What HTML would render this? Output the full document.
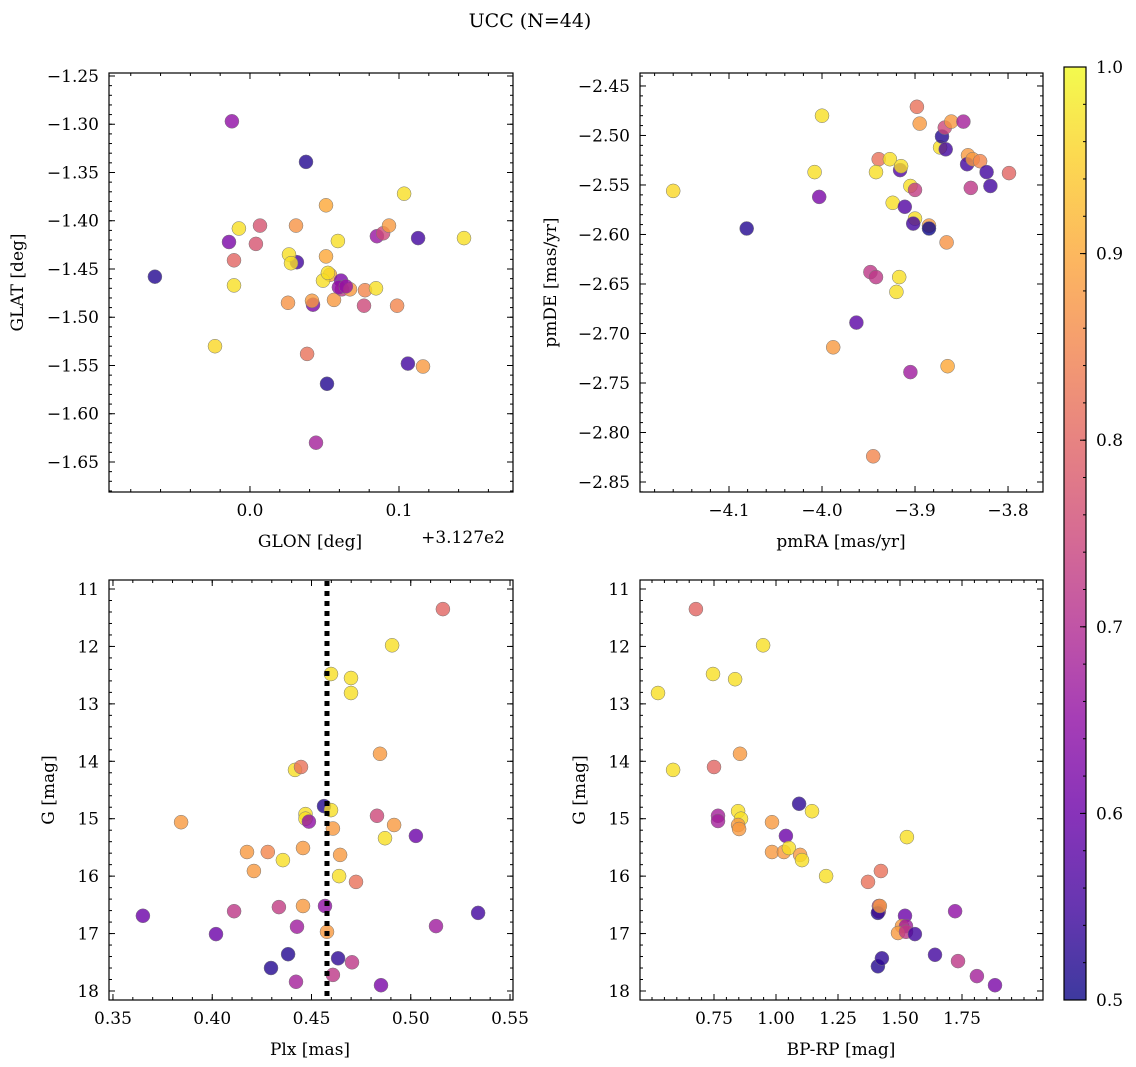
<!DOCTYPE html>
<html><head><meta charset="utf-8"><style>
html,body{margin:0;padding:0;background:#fff;}
svg{display:block;font-family:"DejaVu Serif","Liberation Serif",serif;}
</style></head><body>
<svg id="fig" width="1136" height="1067" viewBox="0 0 1136 1067">
<text x="530" y="27" text-anchor="middle" font-size="19">UCC (N=44)</text>
</svg>
<script>
// Panel 1: GLON offset (deg, +312.7) vs GLAT
const p1X=[-0.0638,-0.0121,-0.0141,-0.0107,-0.0107,-0.0074,0.004,0.0067,-0.0235,0.0376,0.0315,0.0262,0.0275,0.0255,0.0309,0.0383,0.0423,0.0416,0.051,0.051,0.0537,0.049,0.0523,0.059,0.0564,0.0611,0.0617,0.0597,0.0671,0.0772,0.0765,0.0517,0.0443,0.0852,0.0893,0.0933,0.0846,0.0987,0.1034,0.1128,0.106,0.1161,0.1436,0.0644];
const p1Y=[-1.458,-1.297,-1.422,-1.467,-1.441,-1.408,-1.424,-1.405,-1.530,-1.339,-1.443,-1.435,-1.444,-1.485,-1.405,-1.538,-1.487,-1.483,-1.384,-1.437,-1.456,-1.462,-1.454,-1.421,-1.482,-1.462,-1.471,-1.469,-1.471,-1.472,-1.488,-1.569,-1.630,-1.416,-1.413,-1.405,-1.470,-1.488,-1.372,-1.418,-1.548,-1.551,-1.418,-1.468];
const p1C=[0.52,0.65,0.62,0.97,0.8,0.97,0.77,0.77,0.96,0.52,0.55,0.97,0.97,0.87,0.87,0.82,0.62,0.88,0.9,0.9,0.9,0.97,0.97,0.97,0.88,0.62,0.72,0.65,0.88,0.85,0.75,0.52,0.68,0.66,0.75,0.88,0.97,0.85,0.97,0.55,0.55,0.88,0.97,0.66];
// Panel 2: pmRA vs pmDE
const p2X=[-4.160,-4.081,-4.0,-4.008,-4.003,-3.988,-3.963,-3.948,-3.942,-3.945,-3.939,-3.942,-3.927,-3.924,-3.916,-3.915,-3.917,-3.920,-3.911,-3.905,-3.9,-3.9,-3.905,-3.898,-3.895,-3.885,-3.885,-3.873,-3.871,-3.867,-3.868,-3.861,-3.866,-3.865,-3.848,-3.843,-3.840,-3.844,-3.838,-3.830,-3.823,-3.819,-3.799,-3.902];
const p2Y=[-2.556,-2.594,-2.480,-2.537,-2.562,-2.714,-2.689,-2.638,-2.643,-2.824,-2.524,-2.537,-2.524,-2.568,-2.535,-2.531,-2.643,-2.658,-2.572,-2.551,-2.555,-2.584,-2.739,-2.471,-2.488,-2.591,-2.594,-2.512,-2.501,-2.514,-2.492,-2.486,-2.608,-2.733,-2.486,-2.520,-2.553,-2.529,-2.524,-2.526,-2.537,-2.551,-2.538,-2.589];
const p2C=[0.96,0.52,0.97,0.97,0.62,0.88,0.58,0.72,0.72,0.85,0.82,0.97,0.97,0.97,0.57,0.97,0.97,0.97,0.57,0.97,0.73,0.97,0.67,0.82,0.88,0.88,0.5,0.97,0.52,0.55,0.75,0.88,0.87,0.9,0.68,0.88,0.72,0.55,0.88,0.85,0.55,0.55,0.8,0.55];
// Panel 3: Plx vs G
const p3X=[0.3651,0.3843,0.4019,0.411,0.4175,0.421,0.428,0.4296,0.4336,0.4356,0.4382,0.4417,0.4422,0.4427,0.4447,0.4457,0.4457,0.447,0.447,0.4487,0.4563,0.4568,0.4578,0.4598,0.4598,0.4608,0.4608,0.4634,0.4639,0.4644,0.4699,0.4699,0.4704,0.4724,0.4845,0.483,0.485,0.487,0.4906,0.4916,0.5026,0.5127,0.5162,0.5339];
const p3Y=[16.69,15.06,17.01,16.61,15.58,15.91,15.58,17.60,16.54,15.72,17.36,14.15,17.84,16.88,14.10,15.51,16.52,14.92,15.0,15.05,14.78,16.52,16.97,12.48,14.85,15.17,17.72,17.43,16.0,15.63,12.55,12.81,17.5,16.10,13.87,14.95,17.9,15.34,11.98,15.11,15.3,16.87,11.35,16.64];
const p3C=[0.6,0.88,0.6,0.72,0.88,0.88,0.85,0.52,0.73,0.97,0.52,0.97,0.68,0.67,0.82,0.88,0.88,0.97,0.97,0.65,0.52,0.65,0.88,0.97,0.97,0.88,0.72,0.53,0.97,0.88,0.97,0.97,0.72,0.82,0.88,0.75,0.62,0.97,0.97,0.88,0.6,0.67,0.8,0.55];
// Panel 4: BP-RP vs G
const p4X=[0.524,0.585,0.677,0.746,0.75,0.766,0.766,0.835,0.855,0.847,0.859,0.847,0.851,0.948,0.984,0.984,1.032,1.040,1.052,1.093,1.097,1.105,1.145,1.202,1.371,1.423,1.415,1.415,1.411,1.419,1.411,1.427,1.520,1.508,1.524,1.492,1.524,1.528,1.560,1.641,1.722,1.734,1.810,1.883];
const p4Y=[12.81,14.15,11.35,12.48,14.10,14.95,15.04,12.57,13.87,14.87,15.0,15.11,15.18,11.98,15.58,15.06,15.58,15.30,15.51,14.74,15.63,15.72,14.87,16.0,16.10,15.91,16.52,16.61,16.64,16.52,17.57,17.43,16.69,16.87,16.87,16.99,16.97,15.32,17.01,17.37,16.61,17.48,17.74,17.90];
const p4C=[0.97,0.97,0.8,0.97,0.8,0.68,0.68,0.97,0.88,0.97,0.97,0.88,0.88,0.97,0.88,0.88,0.88,0.6,0.97,0.53,0.88,0.97,0.97,0.97,0.82,0.82,0.73,0.73,0.52,0.88,0.52,0.53,0.6,0.88,0.67,0.88,0.72,0.97,0.55,0.55,0.65,0.72,0.68,0.62];
const cbTicks=[0.5,0.6,0.7,0.8,0.9,1.0];

const FS=17;
const NS="http://www.w3.org/2000/svg";
const svg=document.getElementById('fig');
function mk(tag,attrs,parent){const e=document.createElementNS(NS,tag);for(const k in attrs)e.setAttribute(k,attrs[k]);(parent||svg).appendChild(e);return e;}
const stops=[[13,8,135],[65,4,157],[106,0,168],[143,13,164],[177,42,144],[204,71,120],[225,100,98],[242,132,75],[252,166,54],[252,206,37],[240,249,33]];
function plasma(v){let t=(v-0.5)/0.5;t=Math.max(0,Math.min(1,t))*10;const i=Math.min(9,Math.floor(t)),f=t-i;const a=stops[i],b=stops[i+1];return 'rgb('+[0,1,2].map(k=>Math.round(a[k]+(b[k]-a[k])*f)).join(',')+')';}
function fmt(v,d){let s=v.toFixed(d);if(s.startsWith('-'))s='\u2212'+s.slice(1);return s;}

function panel(name,box,xr,yr,xt,yt,xminor,yminor,xd,yd,xs,ys,cs,xlabel,ylabel){
  const [L,T,R,B]=box;
  const sx=v=>L+(v-xr[0])/(xr[1]-xr[0])*(R-L);
  const sy=v=>T+(v-yr[0])/(yr[1]-yr[0])*(B-T);
  const g=mk('g',{});
  
  
  for(let i=0;i<xs.length;i++){
    const c=mk('circle',{cx:sx(xs[i]).toFixed(1),cy:sy(ys[i]).toFixed(1),r:7,fill:plasma(cs[i]),'fill-opacity':0.8,stroke:'#777','stroke-width':0.5},g);
    
    
  }
  const fr=mk('rect',{x:L,y:T,width:R-L,height:B-T,fill:'none',stroke:'#000','stroke-width':1.2},g);
  
  
  const tk=(x1,y1,x2,y2)=>mk('line',{x1,y1,x2,y2,stroke:'#000','stroke-width':1},g);
  const lo=Math.min(xr[0],xr[1]),hi=Math.max(xr[0],xr[1]);
  for(let v=Math.ceil(lo/xminor-1e-6)*xminor;v<=hi+1e-9;v+=xminor){const x=sx(v);tk(x,B,x,B-3);tk(x,T,x,T+3);}
  const ylo=Math.min(yr[0],yr[1]),yhi=Math.max(yr[0],yr[1]);
  for(let v=Math.ceil(ylo/yminor-1e-6)*yminor;v<=yhi+1e-9;v+=yminor){const y=sy(v);tk(L,y,L+3,y);tk(R,y,R-3,y);}
  xt.forEach(v=>{const x=sx(v);tk(x,B,x,B-6);tk(x,T,x,T+6);
    const t=mk('text',{x:x,y:B+24,'text-anchor':'middle','font-size':FS},g);t.textContent=fmt(v,xd);
    
    });
  yt.forEach(v=>{const y=sy(v);tk(L,y,L+6,y);tk(R,y,R-6,y);
    const t=mk('text',{x:L-10,y:y+6,'text-anchor':'end','font-size':FS},g);t.textContent=fmt(v,yd);
    
    });
  const xl=mk('text',{x:xlabel[1],y:B+55,'text-anchor':'middle','font-size':FS},g);xl.textContent=xlabel[0];
  
  
  const yl=mk('text',{x:0,y:0,'text-anchor':'middle','font-size':FS,transform:'translate('+ylabel[1]+','+((T+B)/2)+') rotate(-90)'},g);yl.textContent=ylabel[0];
  
  
  return {sx,sy,g};
}

panel('panel-glon-glat',[109,73,513,492],[-0.0946,0.1765],[-1.2469,-1.6811],[0.0,0.1],[-1.25,-1.30,-1.35,-1.40,-1.45,-1.50,-1.55,-1.60,-1.65],0.02,0.01,1,2,p1X,p1Y,p1C,['GLON [deg]',310],['GLAT [deg]',23]);
const off=mk('text',{x:463,y:543,'text-anchor':'middle','font-size':FS});off.textContent='+3.127e2';


panel('panel-pm',[640,73,1043,492],[-4.1957,-3.7624],[-2.4369,-2.8601],[-4.1,-4.0,-3.9,-3.8],[-2.45,-2.50,-2.55,-2.60,-2.65,-2.70,-2.75,-2.80,-2.85],0.02,0.01,1,2,p2X,p2Y,p2C,['pmRA [mas/yr]',841],['pmDE [mas/yr]',556]);
const P3=panel('panel-plx-g',[109,580,513,1000],[0.348,0.5515],[10.843,18.157],[0.35,0.40,0.45,0.50,0.55],[11,12,13,14,15,16,17,18],0.01,0.2,2,0,p3X,p3Y,p3C,['Plx [mas]',310],['G [mag]',54]);
const vl=mk('line',{x1:P3.sx(0.4578),y1:581,x2:P3.sx(0.4578),y2:999,stroke:'#000','stroke-width':5,'stroke-dasharray':'5,5'});


panel('panel-cmd',[640,580,1043,1000],[0.4516,2.0766],[10.843,18.157],[0.75,1.00,1.25,1.50,1.75],[11,12,13,14,15,16,17,18],0.05,0.2,2,0,p4X,p4Y,p4C,['BP-RP [mag]',841],['G [mag]',585]);

// colorbar
const cb=mk('g',{});


const defs=mk('defs',{},cb);
const lg=mk('linearGradient',{id:'pl',x1:0,y1:1,x2:0,y2:0},defs);
for(let i=0;i<=10;i++)mk('stop',{offset:i/10,'stop-color':plasma(0.5+i*0.05),'stop-opacity':0.8},lg);
const cT=67,cB=1000,cL=1064,cR=1086;
mk('rect',{x:cL,y:cT,width:cR-cL,height:cB-cT,fill:'url(#pl)',stroke:'#000','stroke-width':1.2},cb);
const cy=v=>cB-(v-0.5)/0.5*(cB-cT);
for(let v=0.5;v<=1.0001;v+=0.02){mk('line',{x1:cR,y1:cy(v),x2:cR-3,y2:cy(v),stroke:'#000'},cb);}
cbTicks.forEach(v=>{mk('line',{x1:cR,y1:cy(v),x2:cR-6,y2:cy(v),stroke:'#000'},cb);
  const t=mk('text',{x:cR+10,y:cy(v)+6,'font-size':FS},cb);t.textContent=v.toFixed(1);
  
  });
</script>
</body></html>
